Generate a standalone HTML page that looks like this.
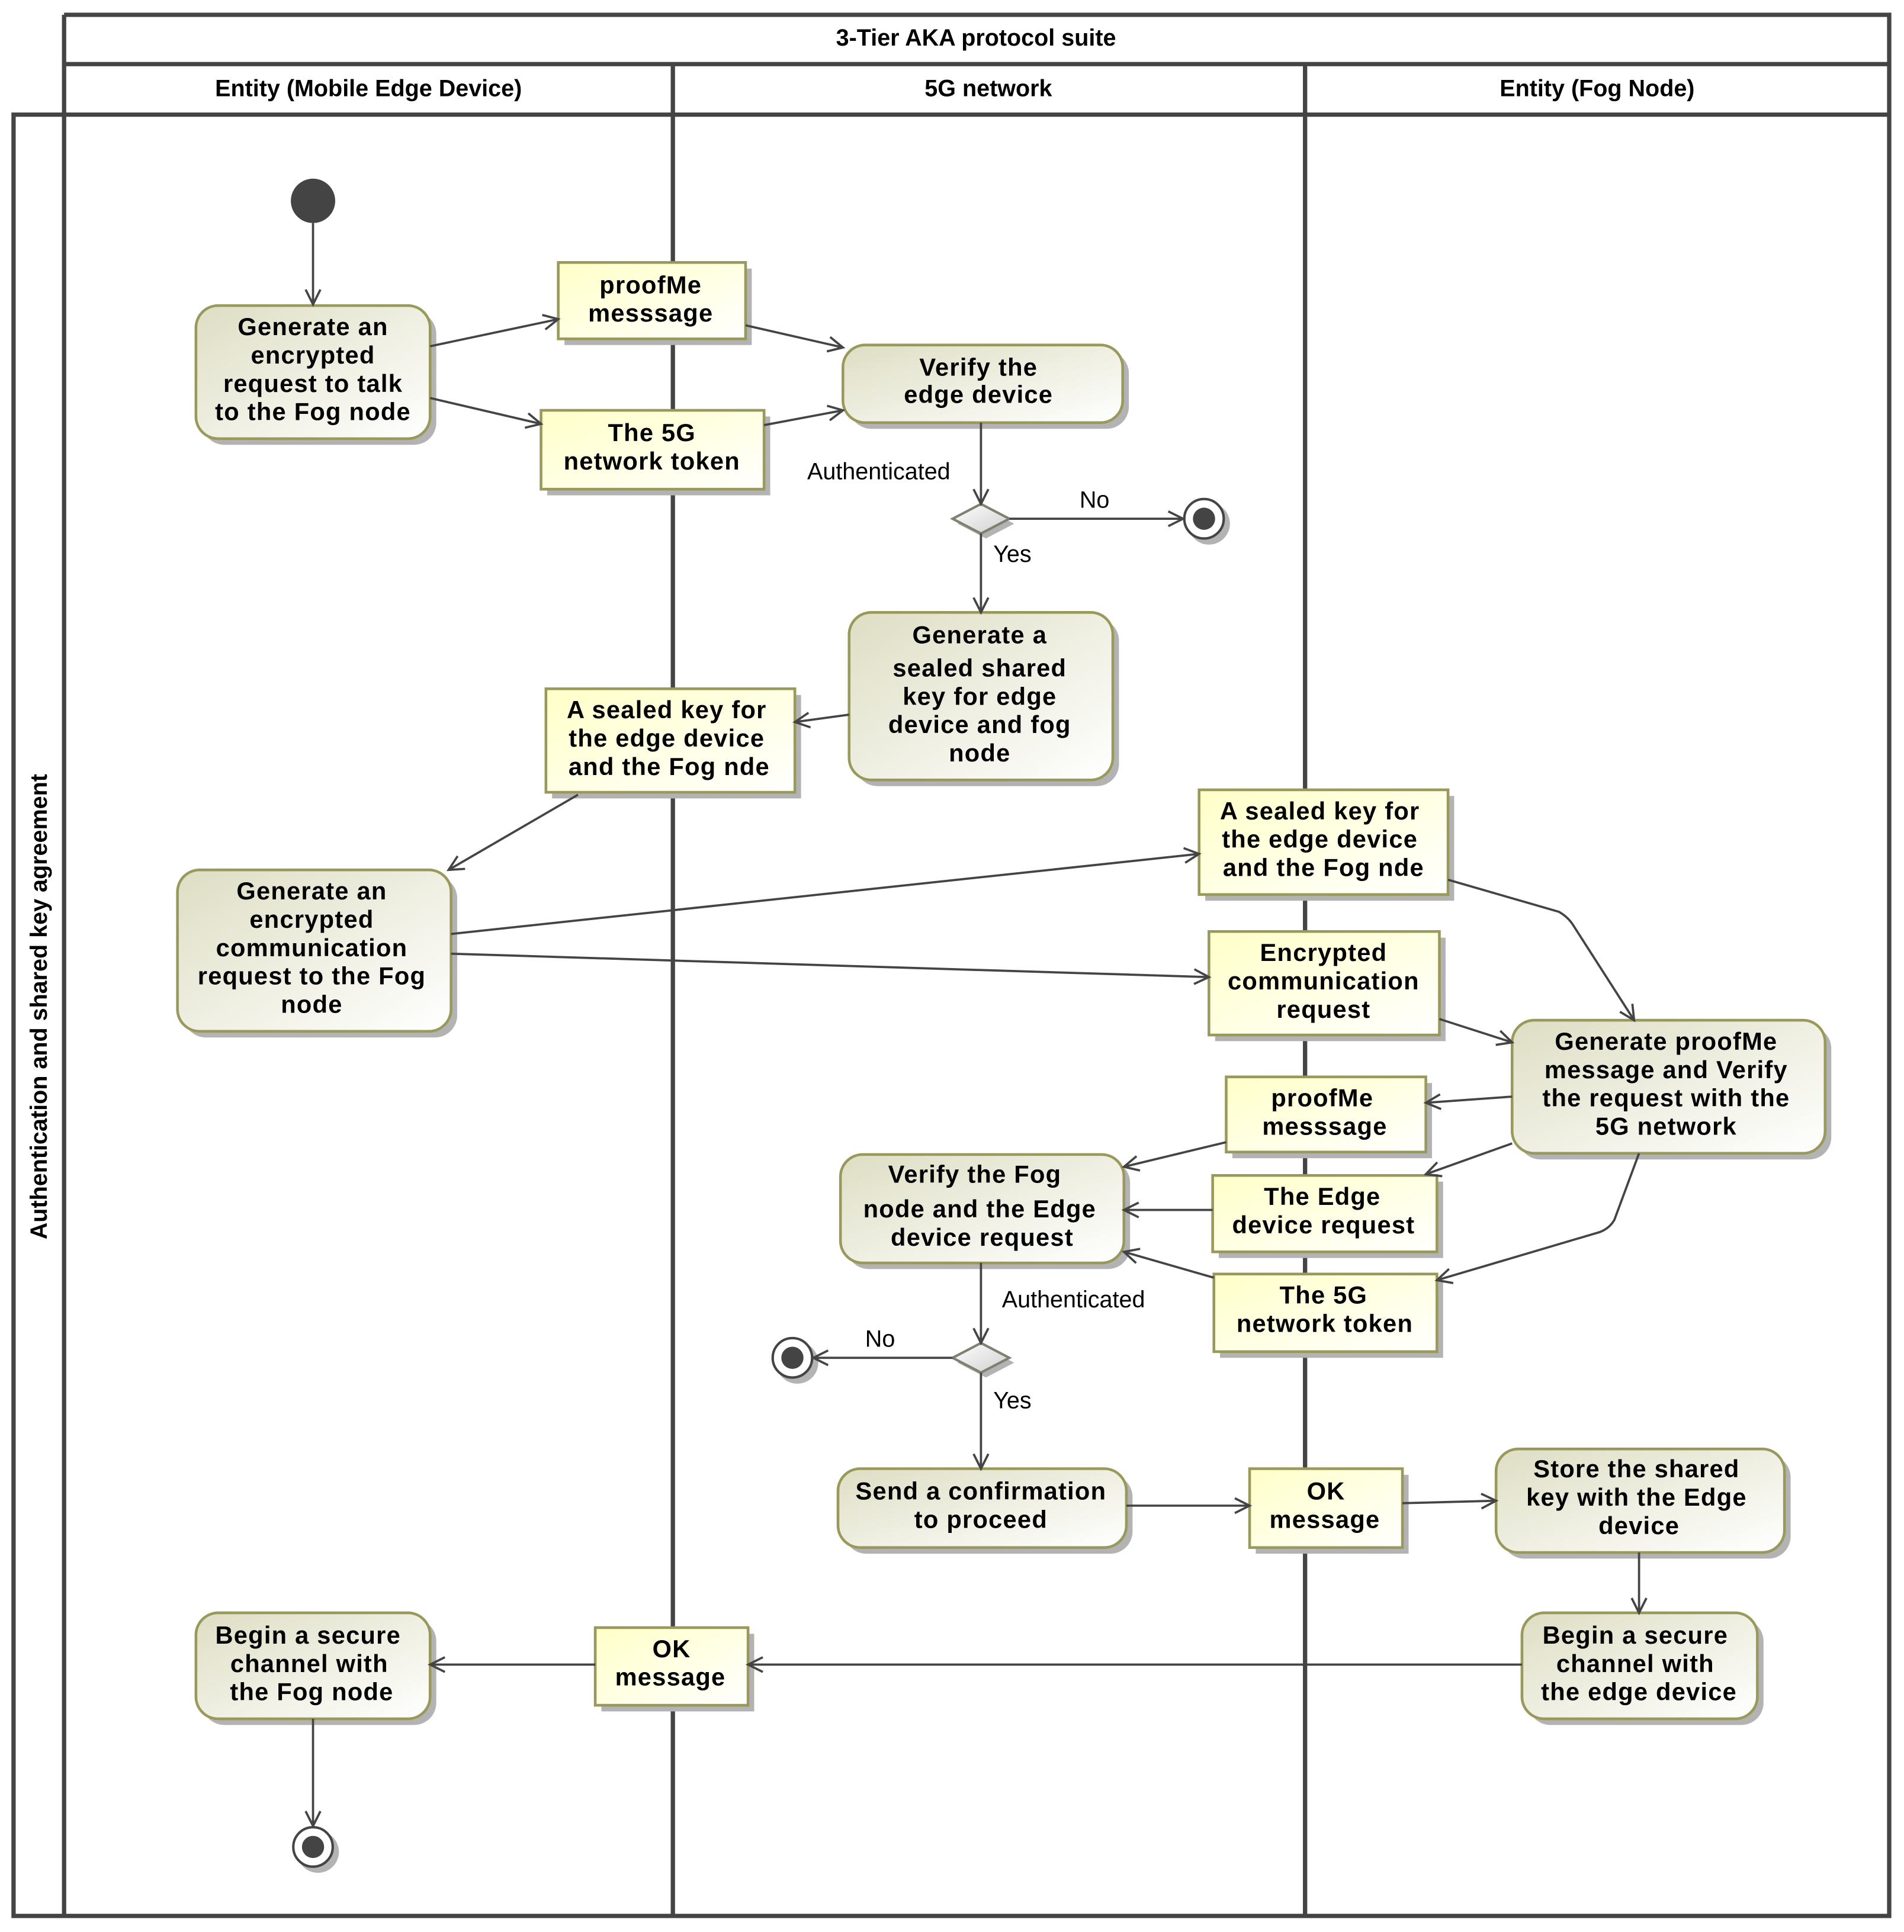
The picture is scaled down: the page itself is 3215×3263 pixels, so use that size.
<!DOCTYPE html>
<html><head><meta charset="utf-8"><style>
html,body{margin:0;padding:0;background:#fff;}
svg{display:block;}
.t{font-family:"Liberation Sans",sans-serif;font-weight:bold;font-size:20px;letter-spacing:0.6px;fill:#000;text-anchor:middle;}
.h{font-family:"Liberation Sans",sans-serif;font-weight:bold;font-size:19px;fill:#000;text-anchor:middle;}
.l{font-family:"Liberation Sans",sans-serif;font-size:19px;fill:#000;}
.act{fill:url(#ga);stroke:#99995c;stroke-width:2.2;}
.obj{fill:url(#go);stroke:#99995c;stroke-width:2.2;}
.sh{fill:#b3b3b3;}
.e{stroke:#444;stroke-width:1.8;fill:none;marker-end:url(#ar);}
.ln{stroke:#444;stroke-width:3.5;fill:none;}
</style></head><body>
<svg width="3215" height="3263" viewBox="0 0 1545 1568" xmlns="http://www.w3.org/2000/svg">
<defs>
<linearGradient id="ga" x1="0" y1="0" x2="1" y2="1"><stop offset="0" stop-color="#dedec4"/><stop offset="1" stop-color="#ffffff"/></linearGradient>
<linearGradient id="go" x1="0" y1="0" x2="1" y2="1"><stop offset="0" stop-color="#ffffc8"/><stop offset="1" stop-color="#ffffff"/></linearGradient>
<linearGradient id="gd" x1="0" y1="0" x2="1" y2="1"><stop offset="0" stop-color="#ffffff"/><stop offset="1" stop-color="#cfcfcf"/></linearGradient>
<marker id="ar" markerWidth="16" markerHeight="16" refX="13" refY="8" orient="auto" markerUnits="userSpaceOnUse"><path d="M1,2 L13,8 L1,14" fill="none" stroke="#444" stroke-width="1.8"/></marker>
</defs>
<rect width="1545" height="1568" fill="#fff"/>
<!-- frame -->
<path class="ln" d="M52,12 H1533 V1555 H11 V93 H1533 M52,12 V1555 M52,52 H1533 M546,52 V1555 M1059,52 V1555"/>
<text class="h" x="792" y="37">3-Tier AKA protocol suite</text>
<text class="h" x="299" y="78">Entity (Mobile Edge Device)</text>
<text class="h" x="802" y="78">5G network</text>
<text class="h" x="1296" y="78">Entity (Fog Node)</text>
<text class="h" transform="translate(38,817) rotate(-90)">Authentication and shared key agreement</text>

<!-- shadows -->
<g class="sh">
<rect x="164" y="253" width="190" height="108" rx="18"/>
<rect x="458" y="218" width="152" height="62"/>
<rect x="444" y="338" width="181" height="64"/>
<rect x="689" y="285" width="227" height="63" rx="18"/>
<rect x="694" y="502" width="214" height="136" rx="18"/>
<rect x="448" y="564" width="202" height="84"/>
<rect x="149" y="711" width="222" height="131" rx="18"/>
<rect x="978" y="646" width="202" height="85"/>
<rect x="986" y="761" width="187" height="84"/>
<rect x="1232" y="833" width="254" height="108" rx="18"/>
<rect x="1000" y="879" width="162" height="61"/>
<rect x="687" y="942" width="230" height="88" rx="18"/>
<rect x="989" y="959" width="182" height="62"/>
<rect x="990" y="1039" width="181" height="63"/>
<rect x="685" y="1197" width="234" height="64" rx="18"/>
<rect x="1019" y="1197" width="124" height="64"/>
<rect x="1219" y="1181" width="234" height="84" rx="18"/>
<rect x="1240" y="1314" width="191" height="86" rx="18"/>
<rect x="488" y="1326" width="124" height="63"/>
<rect x="164" y="1314" width="190" height="86" rx="18"/>
<circle cx="258" cy="1503" r="17"/>
<circle cx="981" cy="425" r="17"/>
<circle cx="647" cy="1106" r="17"/>
<path d="M800,413 L823,425 L800,437 L777,425Z"/>
<path d="M800,1094 L823,1106 L800,1118 L777,1106Z"/>
</g>

<!-- nodes -->
<circle cx="254" cy="163" r="18" fill="#444"/>
<rect class="act" x="159" y="248" width="190" height="108" rx="18"/>
<rect class="obj" x="453" y="213" width="152" height="62"/>
<rect class="obj" x="439" y="333" width="181" height="64"/>
<rect class="act" x="684" y="280" width="227" height="63" rx="18"/>
<path d="M796,409 L819,421 L796,433 L773,421Z" fill="url(#gd)" stroke="#808070" stroke-width="2"/>
<circle cx="977" cy="421" r="16" fill="#fff" stroke="#444" stroke-width="2"/><circle cx="977" cy="421" r="9" fill="#444"/>
<rect class="act" x="689" y="497" width="214" height="136" rx="18"/>
<rect class="obj" x="443" y="559" width="202" height="84"/>
<rect class="act" x="144" y="706" width="222" height="131" rx="18"/>
<rect class="obj" x="973" y="641" width="202" height="85"/>
<rect class="obj" x="981" y="756" width="187" height="84"/>
<rect class="act" x="1227" y="828" width="254" height="108" rx="18"/>
<rect class="obj" x="995" y="874" width="162" height="61"/>
<rect class="act" x="682" y="937" width="230" height="88" rx="18"/>
<rect class="obj" x="984" y="954" width="182" height="62"/>
<rect class="obj" x="985" y="1034" width="181" height="63"/>
<path d="M796,1090 L819,1102 L796,1114 L773,1102Z" fill="url(#gd)" stroke="#808070" stroke-width="2"/>
<circle cx="643" cy="1102" r="16" fill="#fff" stroke="#444" stroke-width="2"/><circle cx="643" cy="1102" r="9" fill="#444"/>
<rect class="act" x="680" y="1192" width="234" height="64" rx="18"/>
<rect class="obj" x="1014" y="1192" width="124" height="64"/>
<rect class="act" x="1214" y="1176" width="234" height="84" rx="18"/>
<rect class="act" x="1235" y="1309" width="191" height="86" rx="18"/>
<rect class="obj" x="483" y="1321" width="124" height="63"/>
<rect class="act" x="159" y="1309" width="190" height="86" rx="18"/>
<circle cx="254" cy="1499" r="16" fill="#fff" stroke="#444" stroke-width="2"/><circle cx="254" cy="1499" r="9" fill="#444"/>

<!-- edges -->
<path class="e" d="M254,181 L254,247"/>
<path class="e" d="M349,281 L453,259"/>
<path class="e" d="M349,323 L439,344"/>
<path class="e" d="M605,264 L684,282"/>
<path class="e" d="M620,345 L684,333"/>
<path class="e" d="M796,343 L796,409"/>
<path class="e" d="M819,421 L960,421"/>
<path class="e" d="M796,433 L796,497"/>
<path class="e" d="M689,580 L645,586"/>
<path class="e" d="M469,645 L364,706"/>
<path class="e" d="M366,758 L973,693"/>
<path class="e" d="M366,774 L981,793"/>
<path class="e" d="M1175,714 L1265,740 Q1272,744 1276,750 L1326,828"/>
<path class="e" d="M1168,827 L1227,846"/>
<path class="e" d="M1227,890 L1157,895"/>
<path class="e" d="M1227,928 L1157,953"/>
<path class="e" d="M1330,936 L1310,990 Q1306,997 1298,1000 L1166,1039"/>
<path class="e" d="M995,927 L912,947"/>
<path class="e" d="M984,982 L912,982"/>
<path class="e" d="M985,1037 L912,1016"/>
<path class="e" d="M796,1025 L796,1090"/>
<path class="e" d="M773,1102 L660,1102"/>
<path class="e" d="M796,1114 L796,1192"/>
<path class="e" d="M914,1222 L1014,1222"/>
<path class="e" d="M1138,1220 L1214,1218"/>
<path class="e" d="M1330,1260 L1330,1309"/>
<path class="e" d="M1235,1351 L607,1351"/>
<path class="e" d="M483,1351 L349,1351"/>
<path class="e" d="M254,1395 L254,1482"/>

<!-- labels -->
<text class="l" x="655" y="389">Authenticated</text>
<text class="l" x="876" y="412">No</text>
<text class="l" x="806" y="456">Yes</text>
<text class="l" x="813" y="1061">Authenticated</text>
<text class="l" x="702" y="1093">No</text>
<text class="l" x="806" y="1143">Yes</text>

<!-- node text -->
<text class="t" x="254" y="272">Generate an</text><text class="t" x="254" y="295">encrypted</text><text class="t" x="254" y="318">request to talk</text><text class="t" x="254" y="341">to the Fog node</text>
<text class="t" x="528" y="238">proofMe</text><text class="t" x="528" y="261">messsage</text>
<text class="t" x="529" y="358">The 5G</text><text class="t" x="529" y="381">network token</text>
<text class="t" x="794" y="305">Verify the</text><text class="t" x="794" y="327">edge device</text>
<text class="t" x="795" y="522">Generate a</text><text class="t" x="795" y="549">sealed shared</text><text class="t" x="795" y="572">key for edge</text><text class="t" x="795" y="595">device and fog</text><text class="t" x="795" y="618">node</text>
<text class="t" x="541" y="583">A sealed key for</text><text class="t" x="541" y="606">the edge device</text><text class="t" x="543" y="629">and the Fog nde</text>
<text class="t" x="253" y="730">Generate an</text><text class="t" x="253" y="753">encrypted</text><text class="t" x="253" y="776">communication</text><text class="t" x="253" y="799">request to the Fog</text><text class="t" x="253" y="822">node</text>
<text class="t" x="1071" y="665">A sealed key for</text><text class="t" x="1071" y="688">the edge device</text><text class="t" x="1074" y="711">and the Fog nde</text>
<text class="t" x="1074" y="780">Encrypted</text><text class="t" x="1074" y="803">communication</text><text class="t" x="1074" y="826">request</text>
<text class="t" x="1352" y="852">Generate proofMe</text><text class="t" x="1352" y="875">message and Verify</text><text class="t" x="1352" y="898">the request with the</text><text class="t" x="1352" y="921">5G network</text>
<text class="t" x="1073" y="898">proofMe</text><text class="t" x="1075" y="921">messsage</text>
<text class="t" x="791" y="960">Verify the Fog</text><text class="t" x="795" y="988">node and the Edge</text><text class="t" x="797" y="1011">device request</text>
<text class="t" x="1073" y="978">The Edge</text><text class="t" x="1074" y="1001">device request</text>
<text class="t" x="1074" y="1058">The 5G</text><text class="t" x="1075" y="1081">network token</text>
<text class="t" x="796" y="1217">Send a confirmation</text><text class="t" x="796" y="1240">to proceed</text>
<text class="t" x="1076" y="1217">OK</text><text class="t" x="1075" y="1240">message</text>
<text class="t" x="1328" y="1199">Store the shared</text><text class="t" x="1328" y="1222">key with the Edge</text><text class="t" x="1330" y="1245">device</text>
<text class="t" x="1327" y="1334">Begin a secure</text><text class="t" x="1327" y="1357">channel with</text><text class="t" x="1330" y="1380">the edge device</text>
<text class="t" x="545" y="1345">OK</text><text class="t" x="544" y="1368">message</text>
<text class="t" x="250" y="1334">Begin a secure</text><text class="t" x="251" y="1357">channel with</text><text class="t" x="253" y="1380">the Fog node</text>
</svg>
</body></html>
